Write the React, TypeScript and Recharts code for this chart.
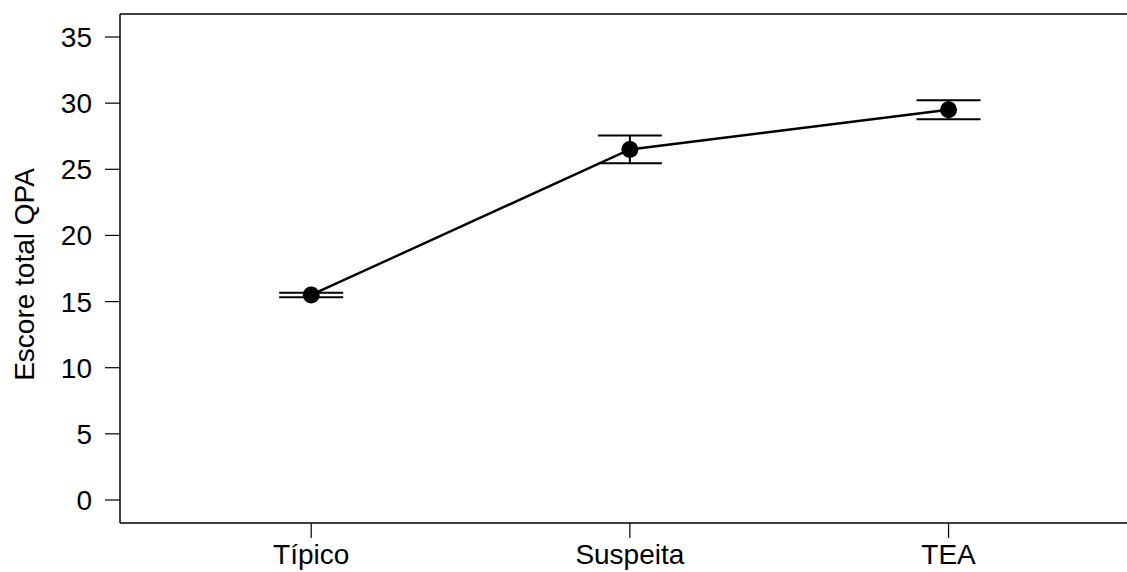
import { ComposedChart, Line, XAxis, YAxis, ErrorBar, ReferenceLine } from "recharts";

const groups = ["Típico", "Suspeita", "TEA"];
const positions = [1, 2, 3];
const means = [15.5, 26.5, 29.5];
const errors = [0.17, 1.05, 0.72];
const yTicks = [0, 5, 10, 15, 20, 25, 30, 35];

const Y_MIN = -1.74;
const Y_MAX = 36.74;
const FONT = '"Liberation Sans", Arial, sans-serif';

const data = groups.map((g, i) => ({
  group: g,
  pos: positions[i],
  mean: means[i],
  err: errors[i],
}));

function YLabel(props: any) {
  const vb = props.viewBox || {};
  const cy = (vb.y ?? 14) + (vb.height ?? 509) / 2 + 6;
  return (
    <text
      x={24}
      y={cy}
      transform={`rotate(-90, 24, ${cy})`}
      textAnchor="middle"
      dominantBaseline="central"
      fontFamily={FONT}
      fontSize={28}
      fill="#000"
    >
      Escore total QPA
    </text>
  );
}

export default function App() {
  return (
    <div style={{ position: "absolute", left: 0, top: 0, background: "#fff" }}>
      <ComposedChart
        width={1127}
        height={572}
        data={data}
        margin={{ top: 14, right: 0, left: 0, bottom: 0 }}
      >
        <XAxis
          dataKey="pos"
          type="number"
          domain={[0.4, 3.56]}
          ticks={positions}
          allowDataOverflow
          tickFormatter={(v: number) => groups[positions.indexOf(v)] ?? ""}
          height={49}
          tickSize={15}
          tickMargin={6}
          axisLine={{ stroke: "#000", strokeWidth: 1.5 }}
          tickLine={{ stroke: "#000", strokeWidth: 1.2 }}
          tick={{ fill: "#000", fontSize: 28, fontFamily: FONT }}
        />
        <YAxis
          type="number"
          domain={[Y_MIN, Y_MAX]}
          ticks={yTicks}
          allowDataOverflow
          width={120}
          tickSize={15}
          tickMargin={13}
          axisLine={{ stroke: "#000", strokeWidth: 1.5 }}
          tickLine={{ stroke: "#000", strokeWidth: 1.2 }}
          tick={{ fill: "#000", fontSize: 28, fontFamily: FONT }}
          label={<YLabel />}
        />
        <ReferenceLine y={Y_MAX} stroke="#000" strokeWidth={1.5} />
        <Line
          dataKey="mean"
          stroke="#000"
          strokeWidth={2.4}
          dot={{ r: 8.5, fill: "#000", stroke: "#000", strokeWidth: 0 }}
          activeDot={false}
          isAnimationActive={false}
        >
          <ErrorBar
            dataKey="err"
            direction="y"
            width={32}
            stroke="#000"
            strokeWidth={2}
            isAnimationActive={false}
          />
        </Line>
      </ComposedChart>
    </div>
  );
}
